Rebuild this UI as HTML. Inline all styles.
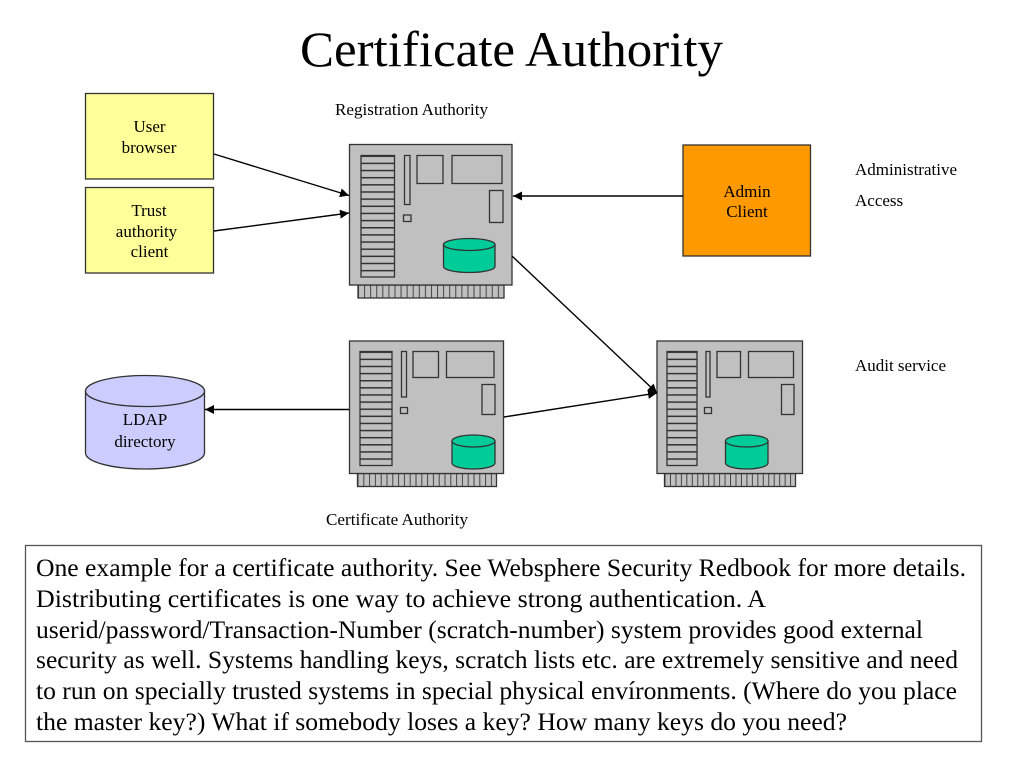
<!DOCTYPE html>
<html><head><meta charset="utf-8"><style>html,body{margin:0;padding:0;background:#fff}svg{display:block}text{font-family:"Liberation Serif",serif;fill:#000}</style></head>
<body>
<svg width="1024" height="768" viewBox="0 0 1024 768" xmlns="http://www.w3.org/2000/svg">
<defs>
<marker id="a" markerUnits="userSpaceOnUse" markerWidth="10" markerHeight="9" refX="9" refY="4.5" orient="auto"><path d="M0 0L9 4.5L0 9Z" fill="#000"/></marker>
<pattern id="s1" width="7.15" height="7.15" patternUnits="userSpaceOnUse" x="361" y="155.5"><rect width="8" height="8" fill="#c0c0c0"/><rect width="8" height="1.5" fill="#333"/></pattern>
<pattern id="s2" width="7.12" height="7.12" patternUnits="userSpaceOnUse" x="360" y="351.5"><rect width="8" height="8" fill="#c0c0c0"/><rect width="8" height="1.5" fill="#333"/></pattern>
<pattern id="s3" width="7.12" height="7.12" patternUnits="userSpaceOnUse" x="667" y="351.5"><rect width="8" height="8" fill="#c0c0c0"/><rect width="8" height="1.5" fill="#333"/></pattern>
<pattern id="t1" width="6.08" height="13" patternUnits="userSpaceOnUse" x="358" y="285"><rect width="7" height="13" fill="#c0c0c0"/><rect width="1" height="13" fill="#444"/></pattern>
<pattern id="t2" width="5.8" height="13" patternUnits="userSpaceOnUse" x="357.5" y="473.5"><rect width="7" height="13" fill="#c0c0c0"/><rect width="1" height="13" fill="#444"/></pattern>
<pattern id="t3" width="5.46" height="13" patternUnits="userSpaceOnUse" x="664.5" y="473.5"><rect width="7" height="13" fill="#c0c0c0"/><rect width="1" height="13" fill="#444"/></pattern>
</defs>

<text x="511.5" y="66" font-size="50" text-anchor="middle" textLength="423" lengthAdjust="spacingAndGlyphs">Certificate Authority</text>

<g stroke="#333" stroke-width="1.3">
<rect x="85.5" y="93.5" width="128" height="85.5" fill="#ffff99"/>
<rect x="85.5" y="187.5" width="128" height="85.5" fill="#ffff99"/>
<rect x="683" y="145" width="127.5" height="111" fill="#ff9900"/>
</g>

<g stroke="#333" stroke-width="1.3" fill="#c0c0c0">
<!-- Server 1 -->
<rect x="358" y="285" width="146" height="13" fill="url(#t1)"/>
<rect x="349.5" y="144.5" width="162.5" height="140.5"/>
<rect x="361" y="155.5" width="33.5" height="121.5" fill="url(#s1)"/>
<rect x="404.5" y="155.5" width="5.5" height="49"/>
<rect x="403.5" y="215" width="7.5" height="6.5"/>
<rect x="417" y="155.5" width="26" height="28"/>
<rect x="452" y="155.5" width="50" height="28"/>
<rect x="489.5" y="190.5" width="13.5" height="32"/>
<path d="M443.5 244.5V266.5A25.75 6 0 0 0 495 266.5V244.5Z" fill="#00cc99"/>
<ellipse cx="469.25" cy="244.5" rx="25.75" ry="6" fill="#00cc99"/>
<!-- Server 2 -->
<rect x="357.5" y="473.5" width="139" height="13" fill="url(#t2)"/>
<rect x="349.5" y="341" width="154" height="132.5"/>
<rect x="360" y="351.5" width="32" height="114" fill="url(#s2)"/>
<rect x="401.5" y="351.5" width="5" height="45.5"/>
<rect x="400.5" y="407.5" width="7" height="6"/>
<rect x="413" y="351.5" width="25.5" height="26"/>
<rect x="446.5" y="351.5" width="47.5" height="26"/>
<rect x="482" y="384.5" width="13" height="30"/>
<path d="M452 441V463A21.5 6 0 0 0 495 463V441Z" fill="#00cc99"/>
<ellipse cx="473.5" cy="441" rx="21.5" ry="6" fill="#00cc99"/>
<!-- Server 3 -->
<rect x="664.5" y="473.5" width="131" height="13" fill="url(#t3)"/>
<rect x="657" y="341" width="145.5" height="132.5"/>
<rect x="667" y="351.5" width="30" height="114" fill="url(#s3)"/>
<rect x="706" y="351.5" width="4" height="45.5"/>
<rect x="704.5" y="407.5" width="7" height="6"/>
<rect x="717" y="351.5" width="23.5" height="26"/>
<rect x="748.5" y="351.5" width="45" height="26"/>
<rect x="781.5" y="384.5" width="12.5" height="30"/>
<path d="M725.5 441V463A21.25 6 0 0 0 768 463V441Z" fill="#00cc99"/>
<ellipse cx="746.75" cy="441" rx="21.25" ry="6" fill="#00cc99"/>
<!-- LDAP -->
<path d="M85.5 391V453A59.5 16 0 0 0 204.5 453V391Z" fill="#ccccff"/>
<ellipse cx="145" cy="391" rx="59.5" ry="15.5" fill="#ccccff"/>
</g>

<g stroke="#000" stroke-width="1.4" fill="none">
<line x1="214" y1="154" x2="349" y2="195.5" marker-end="url(#a)"/>
<line x1="214" y1="231" x2="349" y2="213" marker-end="url(#a)"/>
<line x1="683" y1="196" x2="513" y2="196" marker-end="url(#a)"/>
<line x1="512" y1="256" x2="657" y2="393" marker-end="url(#a)"/>
<line x1="504" y1="417" x2="657" y2="393" marker-end="url(#a)"/>
<line x1="349" y1="409.5" x2="205" y2="409.5" marker-end="url(#a)"/>
</g>

<g font-size="17" text-anchor="middle">
<text x="149.5" y="132">User</text>
<text x="149" y="153">browser</text>
<text x="149" y="216">Trust</text>
<text x="146.5" y="237">authority</text>
<text x="149.5" y="257">client</text>
<text x="747" y="197">Admin</text>
<text x="747" y="217">Client</text>
<text x="145" y="425">LDAP</text>
<text x="145" y="447">directory</text>
</g>
<g font-size="17">
<text x="335" y="115" textLength="153" lengthAdjust="spacingAndGlyphs">Registration Authority</text>
<text x="855" y="175" textLength="102" lengthAdjust="spacingAndGlyphs">Administrative</text>
<text x="855" y="206">Access</text>
<text x="855" y="371" textLength="91" lengthAdjust="spacingAndGlyphs">Audit service</text>
<text x="326" y="525" textLength="142" lengthAdjust="spacingAndGlyphs">Certificate Authority</text>
</g>

<rect x="25.5" y="545.5" width="956" height="196" fill="#fff" stroke="#555" stroke-width="1.3"/>
<g font-size="25.6">
<text x="36" y="576" textLength="930" lengthAdjust="spacingAndGlyphs">One example for a certificate authority. See Websphere Security Redbook for more details.</text>
<text x="36" y="607" textLength="730" lengthAdjust="spacingAndGlyphs">Distributing certificates is one way to achieve strong authentication. A</text>
<text x="36" y="638" textLength="887" lengthAdjust="spacingAndGlyphs">userid/password/Transaction-Number (scratch-number) system provides good external</text>
<text x="36" y="668" textLength="922" lengthAdjust="spacingAndGlyphs">security as well. Systems handling keys, scratch lists etc. are extremely sensitive and need</text>
<text x="36" y="699" textLength="921" lengthAdjust="spacingAndGlyphs">to run on specially trusted systems in special physical envíronments. (Where do you place</text>
<text x="36" y="730" textLength="811" lengthAdjust="spacingAndGlyphs">the master key?) What if somebody loses a key? How many keys do you need?</text>
</g>
</svg>
</body></html>
